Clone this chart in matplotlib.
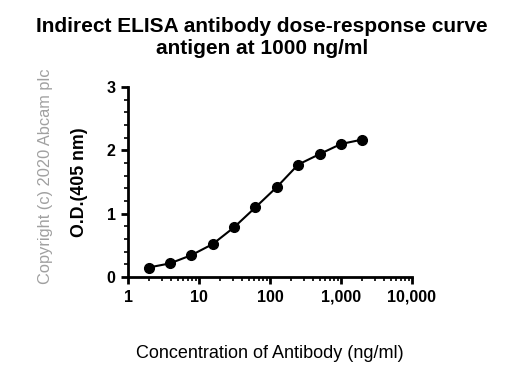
import numpy as np
import matplotlib.pyplot as plt
from matplotlib.ticker import FixedLocator, FuncFormatter, MultipleLocator, LogLocator

plt.rcParams['font.family'] = ['Liberation Sans', 'DejaVu Sans']

# antibody dilution series (ng/ml) and measured O.D.
conc = [1.953, 3.906, 7.8125, 15.625, 31.25, 62.5, 125, 250, 500, 1000, 2000]
od = [0.15, 0.215, 0.345, 0.52, 0.785, 1.10, 1.42, 1.775, 1.94, 2.10, 2.17]

xticks = [1, 10, 100, 1000, 10000]
yticks = [0, 1, 2, 3]

fig = plt.figure(figsize=(5.24, 3.85), dpi=100)
ax = fig.add_axes([0.2443, 0.2805, 0.5417, 0.4935])

ax.plot(conc, od, color='black', lw=1.5, marker='o', ms=7, clip_on=False)

ax.set_xscale('log')
ax.set_xlim(1, 10000)
ax.set_ylim(0, 3)
ax.xaxis.set_major_locator(FixedLocator(xticks))
ax.xaxis.set_minor_locator(LogLocator(base=10, subs=np.arange(2, 10)))
ax.xaxis.set_major_formatter(FuncFormatter(lambda v, p: f'{int(v):,}'))
ax.yaxis.set_major_locator(FixedLocator(yticks))
ax.yaxis.set_minor_locator(MultipleLocator(0.2))

for s in ['top', 'right']:
    ax.spines[s].set_visible(False)
for s in ['left', 'bottom']:
    ax.spines[s].set_linewidth(2)

ax.tick_params(which='major', length=5, width=2, direction='out', pad=4)
ax.tick_params(which='minor', length=3, width=1.2, direction='out')
for lab in ax.get_xticklabels() + ax.get_yticklabels():
    lab.set_fontweight('bold')
    lab.set_fontsize(11.5)

ax.set_xlabel('Concentration of Antibody (ng/ml)', fontsize=13, labelpad=29)
ax.set_ylabel('O.D.(405 nm)', fontsize=12.8, fontweight='bold', labelpad=13)

fig.text(0.5, 0.955, 'Indirect ELISA antibody dose-response curve\nantigen at 1000 ng/ml',
         ha='center', va='top', fontsize=15, fontweight='bold', linespacing=1.2)
fig.text(0.087, 0.543, 'Copyright (c) 2020 Abcam plc', rotation=90, ha='center', va='center',
         fontsize=11.8, color='#a0a0a0')

fig.savefig('out.png', dpi=100)
